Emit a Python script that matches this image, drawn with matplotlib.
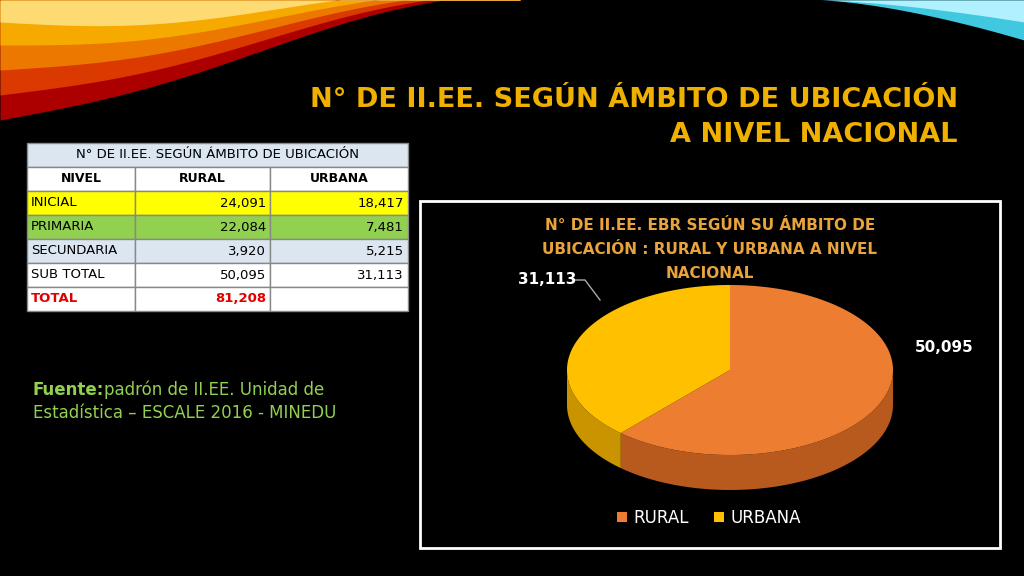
import matplotlib.pyplot as plt
import numpy as np
from matplotlib.patches import Polygon, Rectangle

niveles = ["INICIAL", "PRIMARIA", "SECUNDARIA", "SUB TOTAL", "TOTAL"]
rural = ["24,091", "22,084", "3,920", "50,095", "81,208"]
urbana = ["18,417", "7,481", "5,215", "31,113", ""]
pie_labels = ["RURAL", "URBANA"]
pie_values = [50095, 31113]
pie_colors = ["#ED7D31", "#FFC000"]
side_colors = ["#B85A1E", "#C99400"]

fig = plt.figure(figsize=(10.24, 5.76), dpi=100, facecolor="black")
ax = fig.add_axes([0, 0, 1, 1])
ax.set_xlim(0, 1024)
ax.set_ylim(576, 0)
ax.axis("off")
ax.set_facecolor("black")

# decorative waves top-left / top-right
x = np.linspace(0, 520, 200)
bands = [("#C00000", 120), ("#E04000", 95), ("#F08000", 70), ("#F8B000", 45), ("#FFE080", 22)]
for c, h in bands:
    top = h * (1 - x / 520) ** 1.3 + 10 * np.sin(x / 90)
    ax.fill_between(x, 0, top, color=c, alpha=0.9, lw=0)
xr = np.linspace(820, 1024, 100)
ax.fill_between(xr, 0, 40 * ((xr - 820) / 204) ** 1.5, color="#40C8E0", lw=0)
ax.fill_between(xr, 0, 22 * ((xr - 820) / 204) ** 1.5, color="#B0F0FF", lw=0)

# title
ax.text(958, 100, "N° DE II.EE. SEGÚN ÁMBITO DE UBICACIÓN", color="#F0B000",
        fontsize=19.5, fontweight="bold", ha="right", va="center")
ax.text(958, 135, "A NIVEL NACIONAL", color="#F0B000",
        fontsize=19.5, fontweight="bold", ha="right", va="center")

# table
tx = [27, 135, 270, 408]
ty0 = 143
rh = 24
ax.add_patch(Rectangle((tx[0], ty0), tx[3] - tx[0], rh, fc="#DCE6F1", ec="#888888"))
ax.text((tx[0] + tx[3]) / 2, ty0 + rh / 2, "N° DE II.EE. SEGÚN ÁMBITO DE UBICACIÓN",
        fontsize=9.5, ha="center", va="center", color="black")
heads = ["NIVEL", "RURAL", "URBANA"]
for j in range(3):
    y = ty0 + rh
    ax.add_patch(Rectangle((tx[j], y), tx[j + 1] - tx[j], rh, fc="white", ec="#888888"))
    ax.text((tx[j] + tx[j + 1]) / 2, y + rh / 2, heads[j], fontsize=9, fontweight="bold",
            ha="center", va="center")
for i, n in enumerate(niveles):
    y = ty0 + rh * (i + 2)
    fc = ["#FFFF00", "#92D050", "#DCE6F1", "white", "white"][i]
    col = "#E00000" if n == "TOTAL" else "black"
    fw = "bold" if n == "TOTAL" else "normal"
    for j in range(3):
        ax.add_patch(Rectangle((tx[j], y), tx[j + 1] - tx[j], rh, fc=fc, ec="#888888"))
    ax.text(tx[0] + 4, y + rh / 2, n, fontsize=9.5, va="center", color=col, fontweight=fw)
    ax.text(tx[2] - 4, y + rh / 2, rural[i], fontsize=9.5, va="center", ha="right", color=col, fontweight=fw)
    ax.text(tx[3] - 4, y + rh / 2, urbana[i], fontsize=9.5, va="center", ha="right", color=col)

# source
ax.text(33, 390, "Fuente:", color="#92D050", fontsize=12, fontweight="bold", va="center")
ax.text(104, 390, "padrón de II.EE. Unidad de", color="#92D050", fontsize=12, va="center")
ax.text(33, 413, "Estadística – ESCALE 2016 - MINEDU", color="#92D050", fontsize=12, va="center")

# chart box
ax.add_patch(Rectangle((420, 201), 580, 347, fc="black", ec="white", lw=2))
for k, line in enumerate(["N° DE II.EE. EBR SEGÚN SU ÁMBITO DE",
                          "UBICACIÓN : RURAL Y URBANA A NIVEL", "NACIONAL"]):
    ax.text(710, 226 + 24 * k, line, color="#E8A33C", fontsize=11, fontweight="bold",
            ha="center", va="center")

# 3D pie
cx, cy, rx, ry, d = 730, 370, 163, 85, 35
tot = sum(pie_values)
start = -90.0
angles = []
for v in pie_values:
    end = start + 360 * v / tot
    angles.append((start, end))
    start = end

def pt(a, dy=0):
    r = np.radians(a)
    return cx + rx * np.cos(r), cy + ry * np.sin(r) + dy

# sides (visible front half: 0..180 deg)
for (a0, a1), sc in zip(angles, side_colors):
    lo, hi = max(a0, 0), min(a1, 180)
    if lo >= hi:
        continue
    t = np.linspace(lo, hi, 60)
    top = [pt(a) for a in t]
    bot = [pt(a, d) for a in t[::-1]]
    ax.add_patch(Polygon(top + bot, fc=sc, ec="none"))
# top faces
for (a0, a1), c in zip(angles, pie_colors):
    t = np.linspace(a0, a1, 120)
    ax.add_patch(Polygon([(cx, cy)] + [pt(a) for a in t], fc=c, ec="none"))

# data labels
ax.text(915, 348, "50,095", color="white", fontsize=11, fontweight="bold", va="center")
ax.text(518, 280, "31,113", color="white", fontsize=11, fontweight="bold", va="center")
ax.plot([575, 585, 600], [280, 280, 300], color="#AAAAAA", lw=1)

# legend
ax.add_patch(Rectangle((617, 512), 10, 10, fc=pie_colors[0]))
ax.text(633, 518, pie_labels[0], color="white", fontsize=12, va="center")
ax.add_patch(Rectangle((714, 512), 10, 10, fc=pie_colors[1]))
ax.text(730, 518, pie_labels[1], color="white", fontsize=12, va="center")

fig.savefig("out.png", dpi=100, facecolor="black")
